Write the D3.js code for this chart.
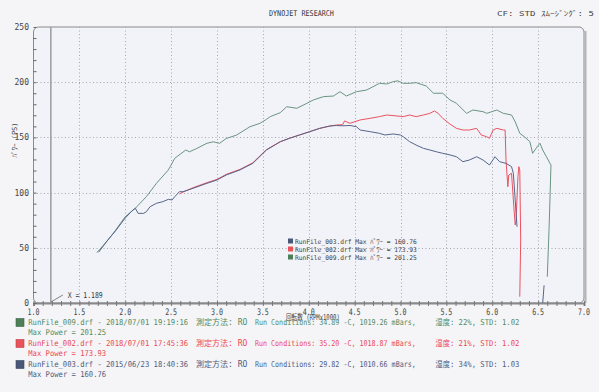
<!DOCTYPE html>
<html>
<head>
<meta charset="utf-8">
<title>DYNOJET RESEARCH</title>
<script src="https://cdn.jsdelivr.net/npm/d3@7"></script>
<style>
  body { margin: 0; background: #f5f5f7; }
  svg { display: block; }
</style>
</head>
<body>
<div id="chart"></div>
<script>
// RunFile_009 (green)
const rpm009 = [1.69, 1.78, 1.87, 2.00, 2.11, 2.23, 2.34, 2.47, 2.54, 2.66, 2.70, 2.78, 2.89, 2.96, 3.03, 3.10, 3.21, 3.36, 3.47, 3.54,
  3.58, 3.69, 3.76, 3.87, 3.98, 4.05, 4.16, 4.27, 4.34, 4.41, 4.52, 4.63, 4.70, 4.77, 4.85, 4.92, 4.97, 5.03, 5.10, 5.17,
  5.28, 5.36, 5.46, 5.54, 5.61, 5.72, 5.79, 5.90, 5.94, 6.05, 6.12, 6.21, 6.25, 6.30, 6.35, 6.41, 6.44, 6.49, 6.52, 6.55,
  6.59, 6.63, 6.64, 6.62, 6.60];
const ps009 = [45.6, 54, 63.1, 78.2, 85.8, 96.3, 108.4, 120.5, 131.1, 138.6, 137, 140, 144.7, 146, 144.7, 149, 152, 159.7, 162.8, 166.4,
  168.8, 172.4, 177.8, 176.4, 180.9, 183.9, 186.9, 187.5, 191.4, 187.5, 191.4, 192.9, 195.9, 199, 198.4, 200.5, 201.25, 199, 199, 199.6,
  196.6, 190, 190, 183.9, 180.9, 171.8, 174.8, 173.3, 171.8, 174.8, 171.8, 170.3, 164.2, 153.7, 150.6, 146.1, 135.6, 141.6, 144.7, 138.6,
  132.5, 126.5, 125, 69.1, 23.8];

// RunFile_002 (red)
const rpm002 = [2.59, 2.63, 2.74, 2.89, 3.00, 3.10, 3.25, 3.39, 3.54, 3.69, 3.79, 3.90, 4.01, 4.12, 4.23, 4.30, 4.37, 4.39, 4.45, 4.56,
  4.67, 4.77, 4.85, 4.96, 5.03, 5.10, 5.17, 5.25, 5.32, 5.37, 5.41, 5.46, 5.54, 5.61, 5.68, 5.75, 5.83, 5.88, 5.94, 5.97,
  6.01, 6.05, 6.12, 6.14, 6.15, 6.17, 6.18, 6.21, 6.23, 6.25, 6.26, 6.28, 6.29, 6.30, 6.31, 6.30];
const ps002 = [98.7, 100.5, 104.5, 109, 112, 116.5, 121, 127, 139, 146.1, 149.2, 152.2, 155.2, 158.2, 160.3, 161.2, 161.5, 164.9, 162.8, 165.8,
  167.3, 168.8, 170.3, 169.4, 168.8, 170.3, 168.8, 170.3, 171.8, 173.93, 171.8, 167.3, 162, 158.2, 156.7, 156.7, 158.2, 152.2, 150.6, 149.2,
  156.7, 158.2, 156.7, 156.7, 129.5, 105.3, 115.9, 117.5, 93.3, 70.7, 75.2, 114.4, 123.5, 120.5, 57.1, 5.7];

// RunFile_003 (blue)
const rpm003 = [1.71, 1.80, 1.90, 2.00, 2.08, 2.11, 2.14, 2.20, 2.23, 2.27, 2.34, 2.41, 2.47, 2.51, 2.54, 2.59, 2.63, 2.74, 2.89, 3.00,
  3.10, 3.25, 3.39, 3.54, 3.69, 3.79, 3.90, 4.01, 4.12, 4.23, 4.30, 4.37, 4.45, 4.52, 4.56, 4.67, 4.77, 4.83, 4.92, 5.00,
  5.03, 5.10, 5.17, 5.25, 5.32, 5.39, 5.46, 5.54, 5.61, 5.68, 5.75, 5.83, 5.90, 5.97, 6.03, 6.08, 6.15, 6.21, 6.23, 6.25, 6.27];
const ps003 = [46, 56, 66, 77, 84, 85.8, 81.2, 81.2, 82.7, 87.2, 90.3, 91.8, 93.9, 93.3, 96.3, 100.8, 100.8, 103.9, 108.4, 111.4,
  115.9, 120.5, 126.5, 138.6, 146.1, 149.2, 152.2, 155.2, 158.2, 160.3, 160.76, 160.5, 160.8, 159.7, 156.7, 155.2, 153.7, 152.2, 153.1, 152.2,
  150.6, 146.1, 143.1, 140.1, 138.6, 137, 135.6, 134.1, 132.5, 128, 129.5, 132.5, 129.5, 125, 132.5, 128, 126.5, 123.5, 117.5, 93.3, 69.1];
const rpm003Tail = [6.565, 6.55];
const ps003Tail = [16, 0];

const xTicks = [1.0, 1.5, 2.0, 2.5, 3.0, 3.5, 4.0, 4.5, 5.0, 5.5, 6.0, 6.5, 7.0];
const yTicks = [0, 50, 100, 150, 200, 250];
const cursorRpm = 1.189;

const runNames = ["RunFile_009.drf", "RunFile_002.drf", "RunFile_003.drf"];
const runDates = ["2018/07/01 19:19:16", "2018/07/01 17:45:36", "2015/06/23 18:40:36"];
const runTemps = ["34.89", "35.20", "29.82"];
const runPress = ["1019.26", "1018.87", "1010.66"];
const runHumid = ["22%", "21%", "34%"];
const runStd = ["1.02", "1.02", "1.03"];
const maxPower = ["201.25", "173.93", "160.76"];

const width = 599, height = 392;
const margin = {top: 27, right: 15, bottom: 89, left: 33.5};
const lineColors = ["#6a9482", "#ec5260", "#56658a"];
const textColors = ["#4f8a62", "#ec4652", "#4d5a7e"];
const swatchColors = ["#4e7f58", "#e9525a", "#4a5878"];
const mono = "'DejaVu Sans Mono','Noto Sans CJK JP',monospace";

const svg = d3.select("#chart").append("svg")
  .attr("width", width).attr("height", height)
  .style("background", "#f5f5f7");

const x = d3.scaleLinear().domain([1, 7]).range([margin.left, width - margin.right]);
const y = d3.scaleLinear().domain([0, 250]).range([height - margin.bottom, margin.top]);

// squeeze a text horizontally to a given width (the printout uses a narrow font)
function fitText(g, str, x0, y0, w, size, fill, anchor) {
  const t = g.append("text").style("font", size + "px " + mono).attr("fill", fill).text(str);
  const s = w / t.node().getComputedTextLength();
  const tx = anchor === "middle" ? x0 - w / 2 : anchor === "end" ? x0 - w : x0;
  t.attr("transform", `translate(${tx},${y0}) scale(${s},1)`);
  return t;
}

// header
fitText(svg, "DYNOJET  RESEARCH", 269, 16, 65, 8, "#333");
fitText(svg, "CF: STD  ｽﾑｰｼﾞﾝｸﾞ: 5", 497, 16, 97, 7, "#444");

// plot frame
svg.append("rect")
  .attr("x", x(1)).attr("y", y(250))
  .attr("width", x(7) - x(1)).attr("height", y(0) - y(250))
  .attr("rx", 5)
  .attr("fill", "#f2f3f8").attr("stroke", "#8a8a8a").attr("stroke-width", 1);
svg.append("line")
  .attr("x1", x(7) + 1.5).attr("x2", x(7) + 1.5)
  .attr("y1", y(250) + 4).attr("y2", y(0))
  .attr("stroke", "#b4b4b8").attr("stroke-width", 2);

// grid
const grid = svg.append("g").attr("stroke", "#a6a6b0").attr("stroke-dasharray", "1,2.5").attr("stroke-width", 1);
grid.selectAll(".gx").data(xTicks.filter(d => d > 1 && d < 7)).join("line")
  .attr("x1", d => Math.round(x(d)) + 0.5).attr("x2", d => Math.round(x(d)) + 0.5)
  .attr("y1", y(250)).attr("y2", y(0));
grid.selectAll(".gy").data(yTicks.filter(d => d > 0 && d < 250)).join("line")
  .attr("x1", x(1)).attr("x2", x(7))
  .attr("y1", d => Math.round(y(d)) + 0.5).attr("y2", d => Math.round(y(d)) + 0.5);

// x axis
svg.append("g")
  .attr("transform", `translate(0,${y(0)})`)
  .call(d3.axisBottom(x).tickValues(d3.range(10, 71).map(d => d / 10)).tickSize(3).tickFormat(""))
  .call(g => g.select(".domain").attr("stroke", "#8a8a8e").attr("stroke-width", 2))
  .call(g => g.selectAll(".tick line").attr("stroke", "#777").attr("y1", -2));
const xLab = svg.append("g");
xTicks.forEach(d => fitText(xLab, d.toFixed(1), x(d), y(0) + 12, 12, 9, "#444", "middle"));
fitText(svg, "回転数 (RPMx1000)", 313, 320, 54, 8, "#444", "middle");

// y axis
svg.append("g")
  .attr("transform", `translate(${x(1)},0)`)
  .call(d3.axisLeft(y).tickValues(d3.range(0, 251, 10)).tickSize(3).tickFormat(""))
  .call(g => g.select(".domain").remove())
  .call(g => g.selectAll(".tick line").attr("stroke", "#666").attr("x2", 3));
svg.append("g").selectAll("text").data(yTicks).join("text")
  .attr("x", 29).attr("y", d => y(d) + 3)
  .attr("text-anchor", "end")
  .style("font", "8px " + mono).attr("fill", "#444")
  .text(d => d);
svg.append("text")
  .attr("transform", `translate(17,140) rotate(-90)`)
  .attr("text-anchor", "middle")
  .style("font", "7px " + mono).attr("fill", "#444").text("ﾊﾟﾜｰ (PS)");

// cursor
svg.append("line")
  .attr("x1", x(cursorRpm)).attr("x2", x(cursorRpm))
  .attr("y1", y(250)).attr("y2", y(0))
  .attr("stroke", "#9a9aa0").attr("stroke-width", 1.5);
svg.append("line")
  .attr("x1", x(cursorRpm)).attr("y1", y(0) - 1)
  .attr("x2", x(cursorRpm) + 12).attr("y2", y(0) - 8)
  .attr("stroke", "#666").attr("stroke-width", 0.8);
fitText(svg, "X = " + cursorRpm.toFixed(3), x(cursorRpm) + 17, y(0) - 5, 35, 8, "#333");

// curves
const line = d3.line().x(d => x(d[0])).y(d => y(d[1]));
const series = [
  d3.zip(rpm009, ps009),
  d3.zip(rpm002, ps002),
  d3.zip(rpm003, ps003)
];
svg.append("g").attr("fill", "none")
  .selectAll("path").data(series).join("path")
  .attr("d", line)
  .attr("stroke", (d, i) => lineColors[i])
  .attr("stroke-width", 1);
svg.append("path").attr("fill", "none")
  .attr("d", line(d3.zip(rpm003Tail, ps003Tail)))
  .attr("stroke", lineColors[2]).attr("stroke-width", 1);

// in-plot legend
const legOrder = [2, 1, 0];
const leg = svg.append("g");
legOrder.forEach((k, i) => {
  const cy = 241 + i * 8;
  leg.append("rect").attr("x", 288).attr("y", cy - 2.5).attr("width", 5).attr("height", 5)
    .attr("fill", swatchColors[k]);
  fitText(leg, `${runNames[k]} Max ﾊﾟﾜｰ = ${maxPower[k]}`, 295, cy + 2.5, 122, 6.5, "#444");
});

// bottom run info
const runBox = svg.append("g");
runNames.forEach((name, i) => {
  const base = 325 + i * 21;
  const c = textColors[i];
  runBox.append("rect").attr("x", 16).attr("y", base - 6.5).attr("width", 8).attr("height", 8)
    .attr("fill", swatchColors[i]).attr("stroke", d3.color(swatchColors[i]).darker(0.6)).attr("stroke-width", 0.6);
  fitText(runBox, `${name} - ${runDates[i]}`, 28.3, base, 160, 8, c);
  fitText(runBox, "測定方法: RO", 196, base, 51.5, 8, c);
  fitText(runBox, `Run Conditions: ${runTemps[i]} -C, ${runPress[i]} mBars,`, 255, base, 161, 8, c);
  fitText(runBox, `湿度: ${runHumid[i]}, STD: ${runStd[i]}`, 435.5, base, 84, 8, c);
  fitText(runBox, `Max Power = ${maxPower[i]}`, 28.3, base + 9.5, 78, 8, c);
});
</script>
</body>
</html>
